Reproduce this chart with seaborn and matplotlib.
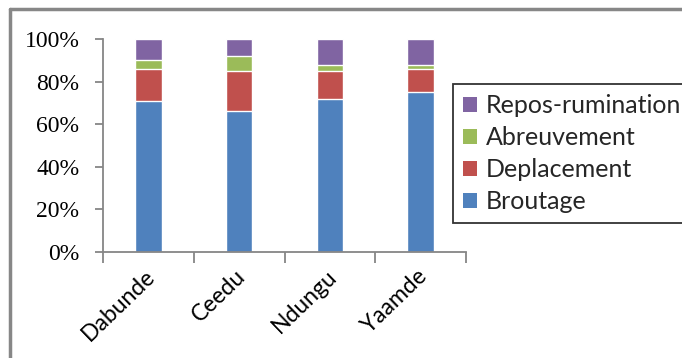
import matplotlib
matplotlib.use("Agg")
import matplotlib.pyplot as plt
from matplotlib.patches import Patch
from matplotlib.lines import Line2D
import seaborn as sns
import pandas as pd
import numpy as np

# Share of daily activity time per site (%)
sites = ["Dabunde", "Ceedu", "Ndungu", "Yaamde"]
broutage = [71, 66, 72, 75]
deplacement = [15, 19, 13, 11]
abreuvement = [4, 7, 3, 2]
repos_rumination = [10, 8, 12, 12]

activities = ["Broutage", "Deplacement", "Abreuvement", "Repos-rumination"]
colors = {"Broutage": "#4F81BD", "Deplacement": "#C0504D",
          "Abreuvement": "#9BBB59", "Repos-rumination": "#8064A2"}

df = pd.DataFrame({"site": sites, "Broutage": broutage, "Deplacement": deplacement,
                   "Abreuvement": abreuvement, "Repos-rumination": repos_rumination})

sns.set_theme(style="white")
plt.rcParams["font.family"] = ["Lato", "DejaVu Sans"]

W, H = 682, 358
fig = plt.figure(figsize=(W / 100, H / 100), dpi=100)
ax = fig.add_axes([103 / W, 1 - 252 / H, (466 - 103) / W, (252 - 39) / H])

# Stacked columns: draw cumulative totals from the top layer down
cum = df[activities].cumsum(axis=1)
for act in reversed(activities):
    sns.barplot(x=df["site"], y=cum[act], color=colors[act], width=0.29,
                saturation=1, ax=ax, zorder=2)

ax.set_xlim(-0.5, 3.5)
ax.set_ylim(0, 100)
ax.set_xlabel("")
ax.set_ylabel("")

axis_grey = "#868686"
for side in ["top", "right"]:
    ax.spines[side].set_visible(False)
for side in ["left", "bottom"]:
    ax.spines[side].set_color(axis_grey)
    ax.spines[side].set_linewidth(1.3)

ax.set_yticks([0, 20, 40, 60, 80, 100])
ax.set_yticklabels([f"{v}%" for v in [0, 20, 40, 60, 80, 100]],
                   family=["Liberation Serif"], fontsize=17, color="black")
ax.tick_params(axis="y", direction="out", length=6, width=1.3, color=axis_grey,
               pad=11, left=True)

# Category boundary ticks on x axis
ax.set_xticks(np.arange(-0.5, 4.0, 1.0), minor=True)
ax.tick_params(axis="x", which="minor", direction="out", length=8, width=1.3,
               color=axis_grey, bottom=True)
ax.tick_params(axis="x", which="major", length=0, pad=10, bottom=False)
ax.set_xticks(range(len(sites)))
ax.set_xticklabels(sites, rotation=44, ha="right", va="top",
                   rotation_mode="anchor", fontsize=16.5, color="black")
for lbl in ax.get_xticklabels():
    lbl.set_transform(lbl.get_transform() +
                      matplotlib.transforms.ScaledTranslation(-4 / 100, 0, fig.dpi_scale_trans))

# Legend, top entry first
handles = [Patch(facecolor=colors[a], edgecolor="none") for a in reversed(activities)]
leg = fig.legend(handles, list(reversed(activities)), loc="upper left",
                 bbox_to_anchor=(453 / W, 1 - 84 / H), fontsize=18,
                 frameon=True, fancybox=False, edgecolor="black",
                 handlelength=0.55, handleheight=0.55, handletextpad=0.35,
                 labelspacing=0.36, borderpad=0.4, borderaxespad=0)
leg.get_frame().set_linewidth(1.3)

# Chart area border (top and left edges)
fig.add_artist(Line2D([10 / W, 1], [1 - 9 / H, 1 - 9 / H], color="#878787",
                      linewidth=2.5, transform=fig.transFigure))
fig.add_artist(Line2D([10 / W, 10 / W], [0, 1 - 9 / H], color="#878787",
                      linewidth=2.5, transform=fig.transFigure))

fig.savefig("out.png", dpi=100, facecolor="white")
